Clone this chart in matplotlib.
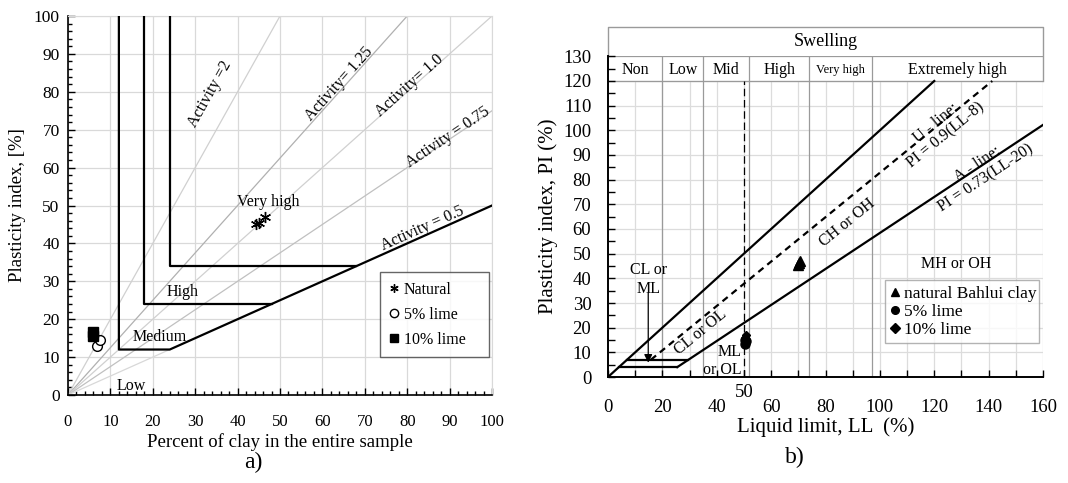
import numpy as np
import matplotlib
matplotlib.use("Agg")
import matplotlib.pyplot as plt
from matplotlib.ticker import MultipleLocator

plt.rcParams['font.family'] = ['Liberation Serif', 'DejaVu Serif']

# ---------------- data: chart a) ----------------
activity_values = [2.0, 1.25, 1.0, 0.75, 0.5]
activity_labels = ["Activity =2", "Activity= 1.25", "Activity= 1.0", "Activity = 0.75", "Activity = 0.5"]
zone_clay = [12, 18, 24]          # vertical boundaries (clay %)
zone_pi = [12, 24, 34]            # horizontal boundaries (PI)
zone_names = ["Low", "Medium", "High", "Very high"]

nat_clay = [44.3, 45.0, 46.5]
nat_pi = [45.0, 45.5, 47.0]
lime5_clay = [6.8, 7.6]
lime5_pi = [13.0, 14.5]
lime10_clay = [5.8, 5.8]
lime10_pi = [15.5, 16.6]

# ---------------- data: chart b) ----------------
swell_bounds = [0, 20, 35, 52, 74, 97, 160]
swell_names = ["Non", "Low", "Mid", "High", "Very high", "Extremely high"]
b_nat_ll = [69.8, 70.3, 70.8]
b_nat_pi = [45.5, 46.3, 47.0]
b_l5_ll = [50.3, 50.6, 50.4]
b_l5_pi = [13.5, 14.5, 15.2]
b_l10_ll = [50.4, 50.7]
b_l10_pi = [16.0, 17.0]

W, H = 1068, 483
fig = plt.figure(figsize=(W / 100, H / 100), dpi=100)

# ======================= chart a) =======================
ax1 = fig.add_axes([68 / W, 1 - 395 / H, 424 / W, 379 / H])
ax1.set_xlim(0, 100)
ax1.set_ylim(0, 100)
ax1.xaxis.set_major_locator(MultipleLocator(10))
ax1.yaxis.set_major_locator(MultipleLocator(10))
ax1.xaxis.set_minor_locator(MultipleLocator(2))
ax1.yaxis.set_minor_locator(MultipleLocator(2))
ax1.tick_params(which='both', direction='in', width=1)
ax1.tick_params(which='major', length=5)
ax1.tick_params(which='minor', length=3)
ax1.tick_params(axis='x', pad=14, labelsize=12)
ax1.tick_params(axis='y', pad=6, labelsize=12.5)
ax1.grid(True, which='major', color='#d9d9d9', lw=0.9)
ax1.set_axisbelow(True)
for s in ['top', 'right']:
    ax1.spines[s].set_color('#d9d9d9')
for s in ['left', 'bottom']:
    ax1.spines[s].set_linewidth(1.2)


def angle(ax, slope, xr, yr):
    bb = ax.get_position()
    pxw = bb.width * W / xr
    pxh = bb.height * H / yr
    return np.degrees(np.arctan(slope * pxh / pxw))


act_colors = ['#d0d0d0', '#b0b0b0', '#d0d0d0', '#c0c0c0', '#d8d8d8']
for a, c in zip(activity_values, act_colors):
    xend = min(100, 100 / a)
    if a == 0.5:
        xend = 24
    ax1.plot([0, xend], [0, a * xend], color=c, lw=0.9, zorder=2)

# black zone boundaries
bk = dict(color='black', lw=1.6, zorder=3)
ax1.plot([zone_clay[0], zone_clay[0], 24, 100], [100, zone_pi[0], 0.5 * 24, 0.5 * 100], **bk)
ax1.plot([zone_clay[1], zone_clay[1], zone_pi[1] / 0.5], [100, zone_pi[1], zone_pi[1]], **bk)
ax1.plot([zone_clay[2], zone_clay[2], zone_pi[2] / 0.5], [100, zone_pi[2], zone_pi[2]], **bk)

# activity labels
act_pos = [(33.5, 79.5), (64.0, 82.0), (80.5, 81.5), (89.5, 68.0), (83.5, 44.0)]
for a, lab, (x, y) in zip(activity_values, activity_labels, act_pos):
    ax1.text(x, y, lab, rotation=angle(ax1, a, 100, 100), ha='center', va='center',
             fontsize=11.5, rotation_mode='anchor')

ax1.text(15.0, 2.4, zone_names[0], ha='center', va='center', fontsize=11.5)
ax1.text(21.7, 15.3, zone_names[1], ha='center', va='center', fontsize=11.5)
ax1.text(27.0, 27.3, zone_names[2], ha='center', va='center', fontsize=11.5)
ax1.text(47.2, 51.0, zone_names[3], ha='center', va='center', fontsize=11.5)

ax1.plot(nat_clay, nat_pi, ls='none', marker=(6, 2, 0), ms=8, mec='black', mew=1.0,
         label='Natural', zorder=5)
ax1.plot(lime5_clay, lime5_pi, ls='none', marker='o', ms=7, mfc='white', mec='black',
         mew=1.0, label='5% lime', zorder=5)
ax1.plot(lime10_clay, lime10_pi, ls='none', marker='s', ms=7, mfc='black', mec='black',
         label='10% lime', zorder=5)

leg1 = ax1.legend(loc='lower left', bbox_to_anchor=(0.736, 0.10, 0.257, 0.217), mode='expand',
                  fontsize=11.5, frameon=True, fancybox=False, edgecolor='#404040',
                  handlelength=0.6, handletextpad=0.3, labelspacing=0.55, borderpad=0.6,
                  borderaxespad=0)
leg1.get_frame().set_linewidth(1.0)
for h in leg1.legend_handles:
    h.set_markersize(6)

ax1.set_xlabel("Percent of clay in the entire sample", fontsize=13.5)
ax1.set_ylabel("Plasticity index, [%]", fontsize=13.5)
ax1.xaxis.set_label_coords(0.5, -0.1)
ax1.yaxis.set_label_coords(-0.1, 0.5)
fig.text(253 / W, 1 - 462 / H, "a)", ha='center', va='center', fontsize=17)

# ======================= chart b) =======================
top_px = 377 - 130 * (377 - 81) / 120
ax2 = fig.add_axes([608 / W, 1 - 377 / H, 435 / W, (377 - top_px) / H])
ax2.set_xlim(0, 160)
ax2.set_ylim(0, 130)
ax2.xaxis.set_major_locator(MultipleLocator(20))
ax2.xaxis.set_minor_locator(MultipleLocator(10))
ax2.yaxis.set_major_locator(MultipleLocator(10))
ax2.yaxis.set_minor_locator(MultipleLocator(5))
ax2.tick_params(which='both', direction='in', labelsize=13.5, width=1)
ax2.tick_params(which='major', length=5)
ax2.tick_params(which='minor', length=5)
ax2.tick_params(axis='x', pad=16)
ax2.tick_params(axis='y', pad=12)
ax2.spines['top'].set_visible(False)
ax2.spines['right'].set_visible(False)
for s in ['left', 'bottom']:
    ax2.spines[s].set_linewidth(1.4)

# grid below the header
grid_c = '#dcdcdc'
ax2.hlines(np.arange(10, 121, 10), 0, 160, color=grid_c, lw=0.9, zorder=0)
ax2.vlines(np.arange(10, 161, 10), 0, 120, color=grid_c, lw=0.9, zorder=0)

# swelling boundaries + header
hc = '#9a9a9a'
ax2.vlines(swell_bounds[1:-1], 0, 130, color=hc, lw=0.9, zorder=1)
ax2.hlines([120, 130], 0, 160, color=hc, lw=0.9, zorder=1)
ax2.plot([0, 0, 160, 160], [130, 142, 142, 120], color=hc, lw=1.0, clip_on=False, zorder=1)
for (a, b), name in zip(zip(swell_bounds[:-1], swell_bounds[1:]), swell_names):
    fs = 9 if name == "Very high" else 11.5
    ax2.text((a + b) / 2, 124.6, name, ha='center', va='center', fontsize=fs)
ax2.text(80, 136, "Swelling", ha='center', va='center', fontsize=13, clip_on=False)

# classification lines
ax2.plot([0, 120], [0, 120], color='black', lw=1.6, zorder=3)
u_start = 8 + 7 / 0.9
u_end = 8 + 120 / 0.9
ax2.plot([u_start, u_end], [0.9 * (u_start - 8), 0.9 * (u_end - 8)], color='black', lw=1.6,
         ls=(0, (3, 2.2)), zorder=3)
a_start = 20 + 4 / 0.73
ax2.plot([a_start, 160], [0.73 * (a_start - 20), 0.73 * (160 - 20)], color='black', lw=1.6, zorder=3)
ax2.plot([7, 20 + 7 / 0.73], [7, 7], color='black', lw=1.6, zorder=3)
ax2.plot([4, a_start], [4, 4], color='black', lw=1.6, zorder=3)
ax2.plot([50, 50], [0, 120], color='black', lw=0.9, ls=(0, (6, 3)), zorder=3)

ang_u = angle(ax2, 0.9, 160, 130)
ang_a = angle(ax2, 0.73, 160, 130)
ax2.text(122.5, 100.5, "U - line:\nPI = 0.9(LL-8)", rotation=ang_u, ha='center', va='center',
         rotation_mode='anchor', fontsize=11.5, linespacing=1.0)
ax2.text(137.5, 83.5, "A - line:\nPI = 0.73(LL-20)", rotation=ang_a, ha='center', va='center',
         rotation_mode='anchor', fontsize=11.5, linespacing=1.0)
ax2.text(88.0, 62.5, "CH or OH", rotation=ang_u, ha='center', va='center',
         rotation_mode='anchor', fontsize=11.5)
ax2.text(34.0, 18.0, "CL or OL", rotation=ang_u, ha='center', va='center',
         rotation_mode='anchor', fontsize=11.5)
ax2.text(49.0, 6.5, "ML\nor OL", ha='right', va='center', fontsize=11.5, linespacing=1.1)
ax2.text(128.0, 46.0, "MH or OH", ha='center', va='center', fontsize=11.5)
ax2.text(14.8, 39.5, "CL or\nML", ha='center', va='center', fontsize=11.5, linespacing=1.2)
ax2.annotate("", xy=(14.8, 5.8), xytext=(14.8, 34),
             arrowprops=dict(arrowstyle='-|>', color='black', lw=0.9, mutation_scale=12,
                             shrinkA=0, shrinkB=0))
ax2.text(50, -6.3, "50", ha='center', va='center', fontsize=13.5, clip_on=False)

ax2.plot(b_nat_ll, b_nat_pi, ls='none', marker='^', ms=7.5, color='black',
         label='natural Bahlui clay', zorder=5)
ax2.plot(b_l5_ll, b_l5_pi, ls='none', marker='o', ms=6.5, color='black', label='5% lime', zorder=5)
ax2.plot(b_l10_ll, b_l10_pi, ls='none', marker='D', ms=4.5, color='black', label='10% lime', zorder=5)

leg2 = ax2.legend(loc='lower left', bbox_to_anchor=(0.637, 0.105, 0.354, 0.184), mode='expand',
                  fontsize=12.5, frameon=True, fancybox=False, edgecolor='#a0a0a0',
                  handlelength=0.5, handletextpad=0.3, labelspacing=0.12, borderpad=0.3,
                  borderaxespad=0)
leg2.get_frame().set_linewidth(1.0)
for h in leg2.legend_handles:
    h.set_markersize(5.5)

ax2.set_xlabel("Liquid limit, LL  (%)", fontsize=15)
ax2.set_ylabel("Plasticity index, PI (%)", fontsize=15)
ax2.xaxis.set_label_coords(0.5, -0.125)
ax2.yaxis.set_label_coords(-0.115, 0.5)
fig.text(795 / W, 1 - 457 / H, "b)", ha='center', va='center', fontsize=17)

fig.savefig("out.png", dpi=100)
